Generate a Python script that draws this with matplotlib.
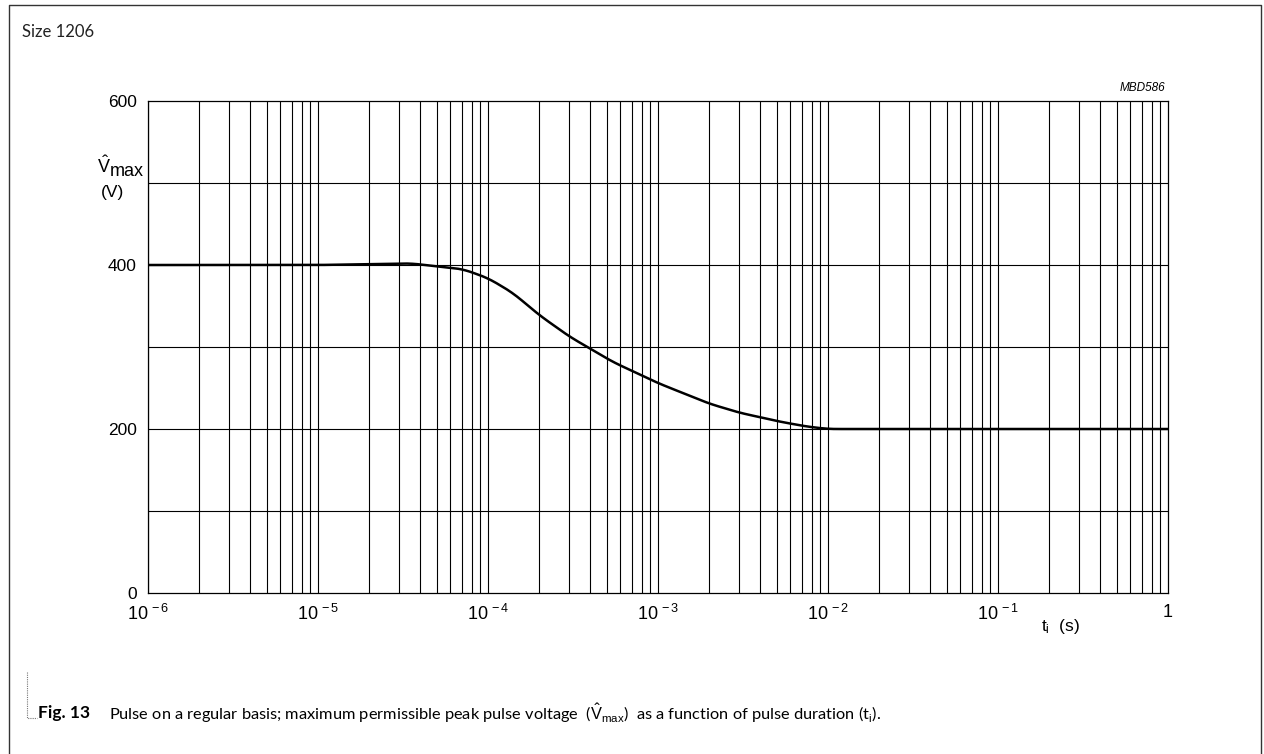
import numpy as np
import matplotlib.pyplot as plt
from matplotlib.lines import Line2D

plt.rcParams['font.family'] = ['Liberation Sans', 'DejaVu Sans']
plt.rcParams['mathtext.fontset'] = 'custom'
plt.rcParams['mathtext.rm'] = 'Liberation Sans'
plt.rcParams['mathtext.it'] = 'Liberation Sans:italic'

# curve: pulse duration (s) vs max peak voltage (V)
t_pulse = [1e-6, 3e-6, 1e-5, 2e-5, 3.5e-5, 4.7e-5, 7.1e-5, 1e-4, 1.4e-4, 2e-4,
           3e-4, 5.4e-4, 1e-3, 2e-3, 3e-3, 5.2e-3, 7.5e-3, 1e-2, 0.1, 1.0]
v_max = [400, 400, 400, 401, 402, 399, 395, 384, 366, 339,
         313, 282, 256, 231, 220, 209, 203, 200, 200, 200]

x_ticks = [1e-6, 1e-5, 1e-4, 1e-3, 1e-2, 1e-1, 1]
x_labels = [r'$10^{\,-6}$', r'$10^{\,-5}$', r'$10^{\,-4}$', r'$10^{\,-3}$',
            r'$10^{\,-2}$', r'$10^{\,-1}$', '1']
y_ticks = [0, 200, 400, 600]

fig = plt.figure(figsize=(12.64, 7.54), dpi=100)
ax = fig.add_axes([148/1264, 1 - 593/754, 1020/1264, 492/754])

# smooth the curve in log space
lt = np.log10(t_pulse)
xs = np.linspace(lt[0], lt[-1], 800)
ys = np.interp(xs, lt, v_max)
k = np.ones(15) / 15
ys_s = np.convolve(np.pad(ys, 7, mode='edge'), k, mode='valid')
ax.plot(10**xs, ys_s, color='black', lw=1.8, zorder=3)

ax.set_xscale('log')
ax.set_xlim(1e-6, 1)
ax.set_ylim(0, 600)

# grid: every decade subdivision and every 100 V
for d in range(-6, 0):
    for m in range(1, 10):
        ax.axvline(m * 10.0**d, color='black', lw=0.8, zorder=1)
for v in range(100, 600, 100):
    ax.axhline(v, color='black', lw=0.8, zorder=1)

ax.set_xticks(x_ticks)
ax.set_xticklabels(x_labels)
ax.xaxis.set_minor_locator(plt.NullLocator())
ax.set_yticks(y_ticks)
ax.tick_params(length=0)
ax.tick_params(axis='x', pad=8, labelsize=13)
ax.tick_params(axis='y', pad=8, labelsize=12.5)
for s in ax.spines.values():
    s.set_linewidth(0.9)

ax.text(0.895, -0.068, r't$_{\mathrm{i}}$  (s)', transform=ax.transAxes,
        fontsize=12.5, ha='center', va='center')
fig.text(104/1264, 1 - 166/754, r'$\hat{\mathrm{V}}$',
         fontsize=13, ha='center', va='center')
fig.text(110/1264, 1 - 171/754, 'max', fontsize=13, ha='left', va='center')
fig.text(112/1264, 1 - 192/754, '(V)', fontsize=12.5, ha='center', va='center')
fig.text(1165/1264, 1 - 88/754, 'MBD586', fontsize=8.5, style='italic',
         ha='right', va='center')

# page frame and caption
fig.add_artist(Line2D([9/1264, 9/1264, 1261/1264, 1261/1264],
                      [0, 1 - 5/754, 1 - 5/754, 0], color='#333333', lw=1.0,
                      transform=fig.transFigure))
fig.add_artist(Line2D([27/1264, 27/1264, 37/1264],
                      [1 - 672/754, 1 - 718/754, 1 - 718/754], color='#777777',
                      lw=0.8, ls=(0, (1, 1)), transform=fig.transFigure))
fig.text(22/1264, 1 - 32/754, 'Size 1206', family='Lato', fontsize=12,
         color='#222222', va='center')
fig.text(38/1264, 1 - 713/754, 'Fig. 13', family='Lato', fontweight='bold',
         fontsize=12.5, va='center')
fig.text(109/1264, 1 - 713/754,
         r'Pulse on a regular basis; maximum permissible peak pulse voltage  ($\hat{\mathrm{V}}_{\mathrm{max}}$)  '
         r'as a function of pulse duration (t$_{\mathrm{i}}$).',
         family='Lato', fontsize=11.8, va='center')

fig.savefig('out.png', dpi=100)
